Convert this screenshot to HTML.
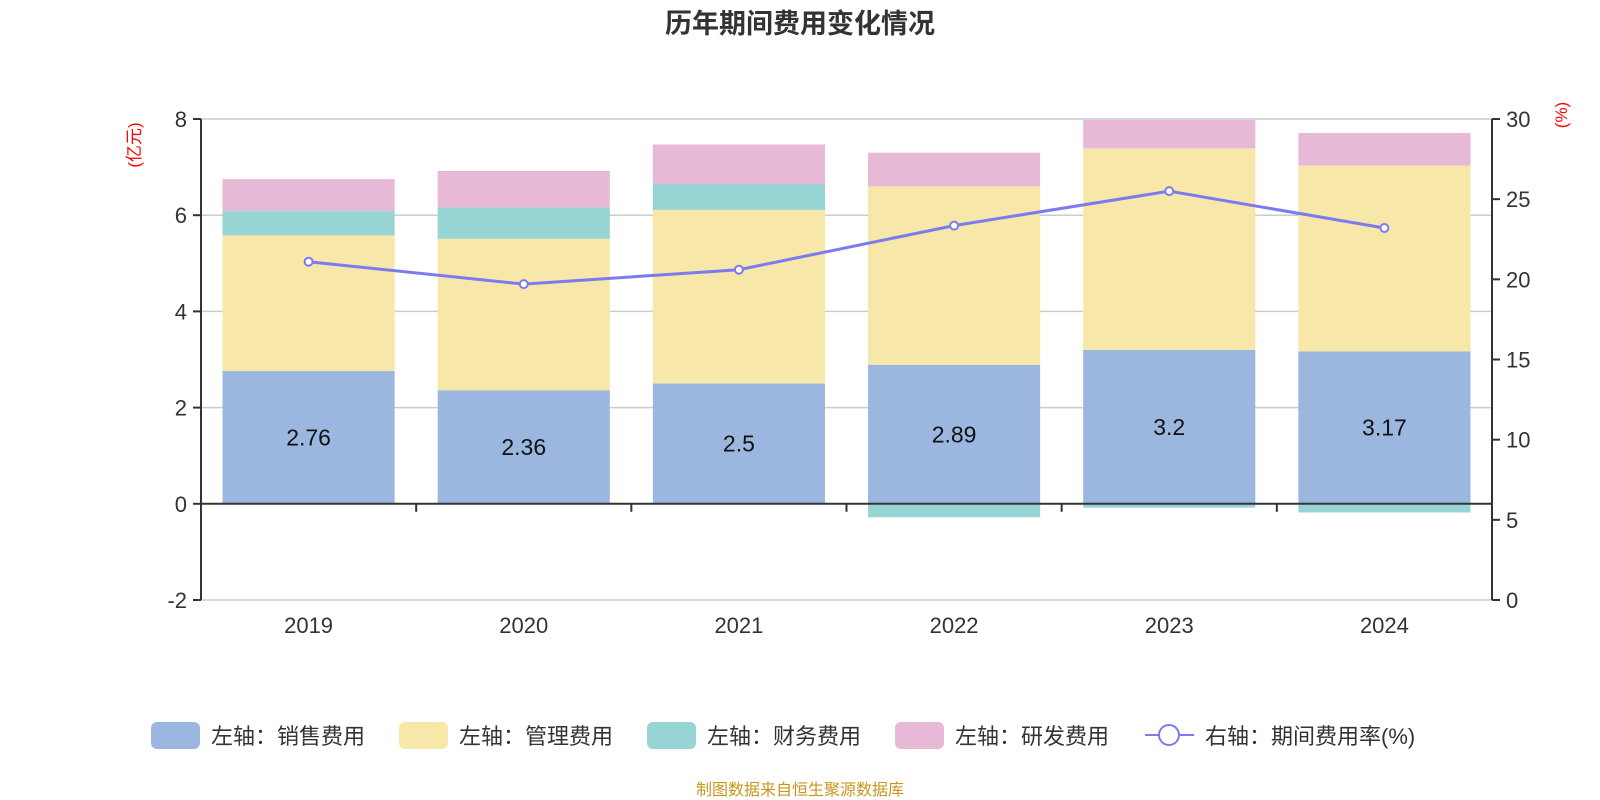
<!DOCTYPE html>
<html><head><meta charset="utf-8"><style>
body{margin:0;background:#fff}
svg{display:block;font-family:"Liberation Sans","Noto Sans CJK SC",sans-serif}
</style></head><body>
<svg id="chart" width="1600" height="800" viewBox="0 0 1600 800">
<text x="800" y="33" text-anchor="middle" font-size="27" font-weight="bold" fill="#333">历年期间费用变化情况</text>
<g id="grid"></g><g id="bars"></g><g id="axes"></g><g id="line"></g><g id="legend"></g>
<text x="800" y="795" text-anchor="middle" font-size="16" fill="#c8961e">制图数据来自恒生聚源数据库</text>
</svg>
<script>
const categories=["2019","2020","2021","2022","2023","2024"];
const sales=[2.76,2.36,2.5,2.89,3.2,3.17];
const mgmt=[2.82,3.15,3.61,3.71,4.19,3.86];
const finance=[0.51,0.65,0.54,-0.28,-0.08,-0.18];
const rd=[0.66,0.76,0.82,0.70,0.59,0.68];
const rate=[21.1,19.7,20.6,23.35,25.5,23.2];
const leftTicks=[-2,0,2,4,6,8];
const rightTicks=[0,5,10,15,20,25,30];

const NS="http://www.w3.org/2000/svg";
const L=201,R=1492,T=119,B=600;
const yL=v=>B-(v+2)/10*(B-T);
const yR=v=>B-v/30*(B-T);
const bw=(R-L)/categories.length;
const xc=i=>L+bw*(i+0.5);
function mk(tag,attrs,parent,text){const e=document.createElementNS(NS,tag);for(const k in attrs)e.setAttribute(k,attrs[k]);if(text!==undefined)e.textContent=text;document.getElementById(parent).appendChild(e);return e;}

leftTicks.forEach(t=>{
  const g=mk('line',{x1:L,x2:R,y1:yL(t),y2:yL(t),stroke:'#ccc','stroke-width':1.5},'grid');
  
  
  const tk=mk('line',{x1:L-8,x2:L,y1:yL(t),y2:yL(t),stroke:'#333','stroke-width':2},'axes');
  
  
  const lb=mk('text',{x:L-14,y:yL(t)+8,'text-anchor':'end','font-size':22,fill:'#333'},'axes',String(t));
  
  
});
rightTicks.forEach(t=>{
  const tk=mk('line',{x1:R,x2:R+8,y1:yR(t),y2:yR(t),stroke:'#333','stroke-width':2},'axes');
  
  
  const lb=mk('text',{x:R+14,y:yR(t)+8,'font-size':22,fill:'#333'},'axes',String(t));
  
  
});
const colors=['#9bb7e0','#f7e7a8','#97d4d4','#e7b9d7'];
const series=[sales,mgmt,finance,rd];
const names=['sales','mgmt','finance','rd'];
categories.forEach((c,i)=>{
  let pos=0,neg=0;
  const w=bw*0.8,x=xc(i)-w/2;
  series.forEach((s,k)=>{
    const v=s[i];let y0,y1;
    if(v>=0){y0=pos;y1=pos+v;pos=y1;}else{y0=neg;y1=neg+v;neg=y1;}
    const r=mk('rect',{x:x,width:w,y:Math.min(yL(y0),yL(y1)),height:Math.abs(yL(y0)-yL(y1)),fill:colors[k]},'bars');
    
    
  });
  const t=mk('text',{x:xc(i),y:(yL(0)+yL(sales[i]))/2+8,'text-anchor':'middle','font-size':23,fill:'#111'},'bars',String(sales[i]));
  
  
  const xl=mk('text',{x:xc(i),y:633,'text-anchor':'middle','font-size':22,fill:'#333'},'axes',c);
  
  
  if(i>0){const tk=mk('line',{x1:L+bw*i,x2:L+bw*i,y1:yL(0),y2:yL(0)+8,stroke:'#333','stroke-width':2},'axes');
  
  }
});
const ax=[[L,T,L,B],[R,T,R,B],[L,yL(0),R,yL(0)]];
ax.forEach(a=>{const l=mk('line',{x1:a[0],y1:a[1],x2:a[2],y2:a[3],stroke:'#333','stroke-width':2},'axes');

});
const u1=mk('text',{transform:'translate(140,145) rotate(-90)','text-anchor':'middle','font-size':17,fill:'red'},'axes','(亿元)');


const u2=mk('text',{transform:'translate(1567,115) rotate(-90)','text-anchor':'middle','font-size':17,fill:'red'},'axes','(%)');


const pl=mk('polyline',{points:rate.map((v,i)=>xc(i)+','+yR(v)).join(' '),fill:'none',stroke:'#7b7bef','stroke-width':3},'line');


rate.forEach((v,i)=>{const c=mk('circle',{cx:xc(i),cy:yR(v),r:4,fill:'#fff',stroke:'#7b7bef','stroke-width':2},'line');

});
const leg=[['左轴：销售费用',151],['左轴：管理费用',399],['左轴：财务费用',647],['左轴：研发费用',895]];
leg.forEach((l,k)=>{
  const r=mk('rect',{x:l[1],y:722,width:49,height:27,rx:6,fill:colors[k]},'legend');
  
  
  const t=mk('text',{x:l[1]+60,y:744,'font-size':22,fill:'#333'},'legend',l[0]);
  
  
});
const ll=mk('line',{x1:1145,x2:1194,y1:735,y2:735,stroke:'#7b7bef','stroke-width':2},'legend');


const lc=mk('circle',{cx:1169,cy:735,r:10,fill:'#fff',stroke:'#7b7bef','stroke-width':2},'legend');


const lt=mk('text',{x:1205,y:744,'font-size':22,fill:'#333'},'legend','右轴：期间费用率(%)');


</script>
</body></html>
